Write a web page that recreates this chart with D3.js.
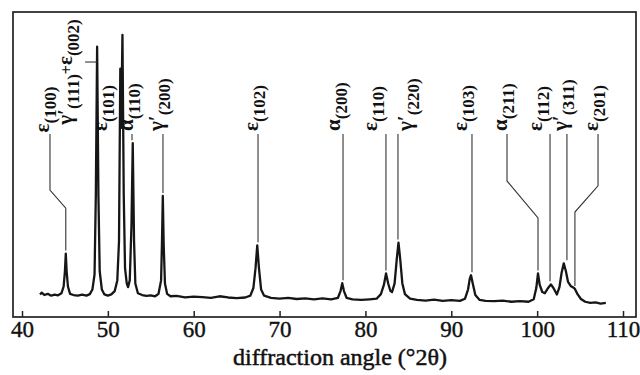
<!DOCTYPE html>
<html>
<head>
<meta charset="utf-8">
<script src="https://cdn.jsdelivr.net/npm/d3@7"></script>
<style>
  html, body { margin: 0; padding: 0; background: #fff; }
</style>
</head>
<body>
<script>
// scan: diffraction angle (°2θ) and intensity (a.u.)
const twoTheta = [
  42.1, 42.3, 42.6, 43.0, 43.4, 43.8, 44.2, 44.6, 44.85, 45.0, 45.1, 45.2, 45.35, 45.6,
  46.0, 46.5, 47.0, 47.5, 47.9, 48.2, 48.45, 48.6, 48.75, 48.9, 49.05, 49.3, 49.6,
  50.0, 50.4, 50.8, 51.1, 51.3, 51.45, 51.55, 51.7, 51.85, 52.0, 52.2, 52.35, 52.55,
  52.75, 52.9, 53.05, 53.2, 53.5, 54.0, 54.5, 55.0, 55.5, 55.9, 56.2, 56.3, 56.4, 56.5,
  56.65, 56.9, 57.3, 58.0, 59.0, 60.0, 61.0, 62.0, 63.0, 64.0, 65.0, 66.0, 66.6, 66.95,
  67.2, 67.4, 67.6, 67.85, 68.2, 69.0, 70.0, 71.0, 72.0, 73.0, 74.0, 75.0, 76.0, 76.8,
  77.1, 77.3, 77.5, 77.8, 78.5, 79.5, 80.5, 81.3, 81.8, 82.15, 82.4, 82.65, 82.9, 83.1,
  83.4, 83.65, 83.85, 84.05, 84.3, 84.6, 85.2, 86.0, 87.0, 88.0, 89.0, 90.0, 91.0, 91.6,
  91.95, 92.15, 92.3, 92.5, 92.8, 93.3, 94.0, 95.0, 96.0, 97.0, 98.0, 99.0, 99.6, 99.9,
  100.1, 100.3, 100.6, 100.9, 101.3, 101.6, 101.9, 102.3, 102.6, 102.85, 103.1, 103.35,
  103.6, 103.9, 104.2, 104.4, 104.7, 105.1, 105.6, 106.2, 106.8, 107.4, 108.0
];
const intensity = [
  7.4, 8.0, 7.2, 7.6, 7.0, 7.3, 7.1, 7.8, 10, 15, 20.8, 15, 10, 7.6,
  7.2, 7.0, 7.3, 7.0, 7.5, 9, 14, 40, 88.6, 40, 15, 9, 7.4,
  7.0, 7.4, 8.5, 12, 25, 81.4, 62, 92.5, 40, 16, 11, 9.8, 12,
  30, 57, 25, 11, 7.8, 7.2, 6.9, 7.1, 6.8, 7.6, 12, 24, 39.7, 24,
  11, 7.6, 6.8, 6.9, 6.4, 6.7, 6.5, 6.3, 6.8, 6.4, 6.2, 6.4, 7.0, 9.5,
  16, 23.5, 16, 9, 7.0, 6.3, 6.0, 6.3, 5.9, 6.1, 5.8, 6.1, 5.8, 6.3,
  8.5, 11.1, 8.5, 6.3, 5.8, 5.6, 5.8, 6.0, 7.5, 10.5, 14.3, 11, 8.6, 8.2,
  11, 19, 24.4, 19, 11, 7.5, 6.0, 5.6, 5.4, 5.7, 5.3, 5.5, 5.3, 6.0,
  9, 12.5, 13.7, 11, 7.2, 5.6, 5.3, 5.2, 5.4, 5.0, 5.2, 5.0, 5.8, 9.5,
  14.3, 10.5, 8.2, 7.8, 9.6, 10.7, 9.5, 7.4, 9.8, 14.5, 17.6, 15,
  11.5, 10.2, 9.7, 9.2, 7.5, 5.9, 5.0, 4.6, 4.8, 4.4, 4.6
];

const xTicks = [40, 50, 60, 70, 80, 90, 100, 110];
const xTitle = "diffraction angle (°2θ)";

// peak labels: text parts ([text, subscript?])
const labelParts = [
  [["ε", 0], ["(100)", 1]],
  [["γ′", 0], ["(111)", 1], ["+", 2], ["ε", 0], ["(002)", 1]],
  [["ε", 0], ["(101)", 1]],
  [["α", 0], ["(110)", 1]],
  [["γ′", 0], ["(200)", 1]],
  [["ε", 0], ["(102)", 1]],
  [["α", 0], ["(200)", 1]],
  [["ε", 0], ["(110)", 1]],
  [["γ′", 0], ["(220)", 1]],
  [["ε", 0], ["(103)", 1]],
  [["α", 0], ["(211)", 1]],
  [["ε", 0], ["(112)", 1]],
  [["γ′", 0], ["(311)", 1]],
  [["ε", 0], ["(201)", 1]]
];
// angle of the label's text baseline, and of the leader's top end
const textAngle   = [43.14, 45.82, 49.9, 52.93, 56.42, 67.49, 77.04, 81.35, 85.42, 91.83, 96.49, 100.56, 103.47, 107.09];
const leaderAngle = [43.26, null, null, 52.81, 56.42, 67.49, 77.39, 82.39, 83.79, 92.41, 96.49, 101.5, 103.47, 107.09];
const labelBase   = [60.5, 63, 61, 61, 61, 61, 61, 61, 61, 61, 61, 61, 61, 61];
// the peak each leader points at
const peakAngle   = [45.1, 48.73, null, 52.9, 56.4, 67.4, 77.3, 82.4, 83.85, 92.3, 100.1, 101.6, 103.3, 104.4];
const peakTop     = [20.8, 83.6, null, 57, 39.7, 23.5, 11.1, 14.3, 24.4, 13.7, 14.3, 10.7, 17.6, 9.2];
// dog-leg leaders: intensity where the slanted part starts and ends
const bendFrom    = [41.6, null, null, null, null, null, null, null, null, null, 44.6, null, null, 43.0];
const bendTo      = [35.7, null, null, null, null, null, null, null, null, null, 32.5, null, null, 34.4];

const serif = "'Liberation Serif', 'Times New Roman', 'DejaVu Serif', serif";
const width = 640, height = 375;
const frameLeft = 13, frameRight = 636, frameTop = 12, frameBottom = 317;

const svg = d3.select("body").append("svg")
  .attr("width", width)
  .attr("height", height)
  .style("display", "block");

const x = d3.scaleLinear().domain([40, 110]).range([22, 623]);
const y = d3.scaleLinear().domain([0, 100]).range([frameBottom, frameTop]);

// frame
svg.append("rect")
  .attr("x", frameLeft).attr("y", frameTop)
  .attr("width", frameRight - frameLeft).attr("height", frameBottom - frameTop)
  .attr("fill", "none")
  .attr("stroke", "#222")
  .attr("stroke-width", 1.7);

// bottom axis, ticks pointing inwards
const xAxis = d3.axisBottom(x)
  .tickValues(xTicks)
  .tickSizeInner(-6)
  .tickSizeOuter(0)
  .tickPadding(4)
  .tickFormat(d3.format("d"));

const gx = svg.append("g")
  .attr("transform", `translate(0,${frameBottom})`)
  .call(xAxis)
  .attr("font-family", serif)
  .attr("font-size", 23);
gx.select(".domain").remove();
gx.selectAll(".tick line").attr("stroke", "#222").attr("stroke-width", 1.5);
gx.selectAll(".tick text")
  .attr("fill", "#111")
  .attr("stroke", "#111")
  .attr("stroke-width", 0.4);

svg.append("text")
  .attr("x", 340)
  .attr("y", 365)
  .attr("text-anchor", "middle")
  .attr("fill", "#111")
  .attr("stroke", "#111")
  .attr("stroke-width", 0.5)
  .attr("font-family", serif)
  .attr("font-size", 24)
  .text(xTitle);

// the scan itself
const scan = twoTheta.map((a, i) => [a, intensity[i]]);
const line = d3.line()
  .x(d => x(d[0]))
  .y(d => y(d[1]));

svg.append("path")
  .datum(scan)
  .attr("fill", "none")
  .attr("stroke", "#161616")
  .attr("stroke-width", 2.3)
  .attr("stroke-linejoin", "round")
  .attr("d", line);

// leader lines
const leaderStart = 60;
const toPath = d3.line().x(d => x(d[0])).y(d => y(d[1]));
labelParts.forEach((parts, i) => {
  if (peakAngle[i] == null) return;
  const stop = y.invert(y(peakTop[i]) - 3);
  let pts;
  if (i === 1) {
    // short horizontal tick onto the tall peak
    pts = [[47.35, peakTop[i]], [peakAngle[i], peakTop[i]]];
  } else if (bendFrom[i] != null) {
    pts = [
      [leaderAngle[i], leaderStart],
      [leaderAngle[i], bendFrom[i]],
      [peakAngle[i], bendTo[i]],
      [peakAngle[i], stop]
    ];
  } else {
    pts = [[leaderAngle[i], leaderStart], [leaderAngle[i], stop]];
  }
  svg.append("path")
    .attr("fill", "none")
    .attr("stroke", "#333")
    .attr("stroke-width", 1.1)
    .attr("d", toPath(pts));
});

// rotated peak labels (0 = main glyph, 1 = subscript, 2 = small joiner)
const partSize = [21, 17, 16];
const partShift = [0, 7, 0];
labelParts.forEach((parts, i) => {
  const t = svg.append("text")
    .attr("transform", `translate(${x(textAngle[i])},${y(labelBase[i])}) rotate(-90)`)
    .attr("fill", "#111")
    .attr("font-family", serif)
    .attr("font-weight", "bold");
  let shifted = 0;
  parts.forEach(([txt, kind]) => {
    const off = partShift[kind];
    t.append("tspan")
      .attr("dy", off - shifted)
      .attr("font-size", partSize[kind])
      .text(txt);
    shifted = off;
  });
});
</script>
</body>
</html>
